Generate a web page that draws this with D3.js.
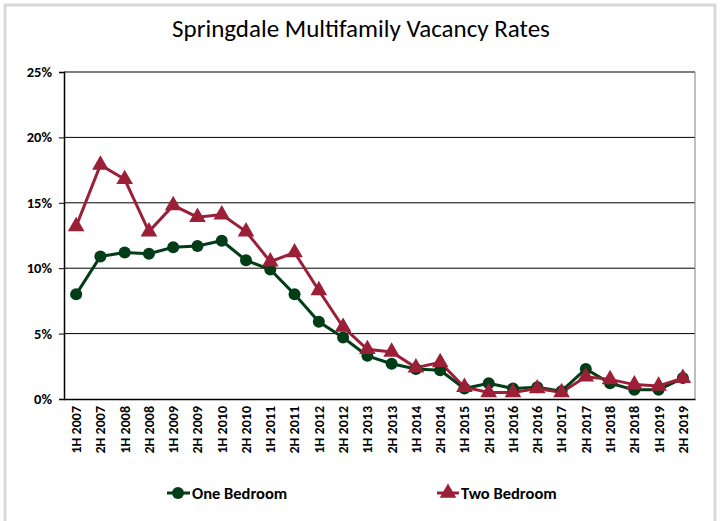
<!DOCTYPE html>
<html><head><meta charset="utf-8">
<script src="https://cdn.jsdelivr.net/npm/d3@7"></script>
<style>body{margin:0;background:#fff;} text{font-family:Carlito,Calibri,Lato,"Open Sans",sans-serif;}</style>
</head><body><svg id="c" width="721" height="521"></svg>
<script>
const categories = ["1H 2007","2H 2007","1H 2008","2H 2008","1H 2009","2H 2009","1H 2010","2H 2010","1H 2011","2H 2011","1H 2012","2H 2012","1H 2013","2H 2013","1H 2014","2H 2014","1H 2015","2H 2015","1H 2016","2H 2016","1H 2017","2H 2017","1H 2018","2H 2018","1H 2019","2H 2019"];
const oneBedroom = [8.0,10.9,11.2,11.1,11.6,11.7,12.1,10.6,9.9,8.0,5.9,4.7,3.3,2.7,2.3,2.2,0.8,1.2,0.8,0.9,0.6,2.3,1.2,0.7,0.7,1.6];
const twoBedroom = [13.2,17.9,16.8,12.8,14.8,13.9,14.1,12.8,10.5,11.2,8.3,5.5,3.8,3.6,2.4,2.8,0.9,0.5,0.5,0.8,0.5,1.7,1.5,1.1,1.0,1.6];
const yTicks = [0,5,10,15,20,25];
const title = "Springdale Multifamily Vacancy Rates";
const seriesNames = ["One Bedroom","Two Bedroom"];

const svg = d3.select("#c");
const green = "#013d16", red = "#9c1f38";
const L = 64, R = 695, T = 72, B = 399;

svg.append("rect").attr("x",5).attr("y",5).attr("width",710).attr("height",520)
  .attr("fill","#fff").attr("stroke","#d9d9d9").attr("stroke-width",3);

svg.append("text").attr("x",361).attr("y",37).attr("text-anchor","middle")
  .attr("font-size",25).attr("fill","#000").text(title);

const x = d3.scaleBand().domain(categories).range([L,R]);
const y = d3.scaleLinear().domain([0,25]).range([B,T]);
const cx = d => x(d) + x.bandwidth()/2;

svg.append("g").selectAll("line").data(yTicks.filter(t=>t>0)).join("line")
  .attr("x1",L).attr("x2",R).attr("y1",d=>y(d)).attr("y2",d=>y(d))
  .attr("stroke","#000").attr("stroke-width",1);
svg.append("line").attr("x1",R).attr("x2",R).attr("y1",T).attr("y2",B).attr("stroke","#7f7f7f");

// y axis (ticks via d3 axis, labels drawn explicitly)
const ya = svg.append("g").attr("transform",`translate(${L},0)`)
  .call(d3.axisLeft(y).tickValues(yTicks).tickFormat("").tickSize(5));
ya.select(".domain").attr("stroke","#000").attr("stroke-width",1.5);
svg.append("g").selectAll("text").data(yTicks).join("text")
  .attr("x",L-12).attr("y",d=>y(d)).attr("dy","0.35em").attr("text-anchor","end")
  .attr("font-size",14.5).attr("font-weight","bold").attr("fill","#000")
  .text(d=>d+"%");

// x axis
const xa = svg.append("g").attr("transform",`translate(0,${B})`)
  .call(d3.axisBottom(x).tickSize(0).tickFormat(""));
xa.select(".domain").attr("stroke","#000").attr("stroke-width",1.5);
svg.append("g").selectAll("text").data(categories).join("text")
  .attr("transform",d=>`translate(${cx(d)},${B+7}) rotate(-90)`)
  .attr("dy","0.35em").attr("text-anchor","end")
  .attr("font-size",14).attr("font-weight","bold").attr("fill","#000")
  .text(d=>d);

const line = d3.line().x((d,i)=>cx(categories[i])).y(d=>y(d));
svg.append("path").datum(oneBedroom).attr("d",line).attr("fill","none").attr("stroke",green).attr("stroke-width",3);
svg.append("path").datum(twoBedroom).attr("d",line).attr("fill","none").attr("stroke",red).attr("stroke-width",3);

const tri = d3.symbol().type(d3.symbolTriangle).size(120);
svg.append("g").selectAll("circle").data(oneBedroom).join("circle")
  .attr("cx",(d,i)=>cx(categories[i])).attr("cy",d=>y(d)).attr("r",6).attr("fill",green);
svg.append("g").selectAll("path").data(twoBedroom).join("path")
  .attr("d",tri).attr("transform",(d,i)=>`translate(${cx(categories[i])},${y(d)})`).attr("fill",red);

const lg = svg.append("g");
lg.append("line").attr("x1",167).attr("x2",190).attr("y1",493).attr("y2",493).attr("stroke",green).attr("stroke-width",3);
lg.append("circle").attr("cx",178).attr("cy",493).attr("r",6).attr("fill",green);
lg.append("text").attr("x",192).attr("y",499).attr("font-size",16.5).attr("font-weight","bold").text(seriesNames[0]);
lg.append("line").attr("x1",437).attr("x2",459).attr("y1",493).attr("y2",493).attr("stroke",red).attr("stroke-width",3);
lg.append("path").attr("d",tri).attr("transform","translate(448,493)").attr("fill",red);
lg.append("text").attr("x",461).attr("y",499).attr("font-size",16.5).attr("font-weight","bold").text(seriesNames[1]);
</script></body></html>
